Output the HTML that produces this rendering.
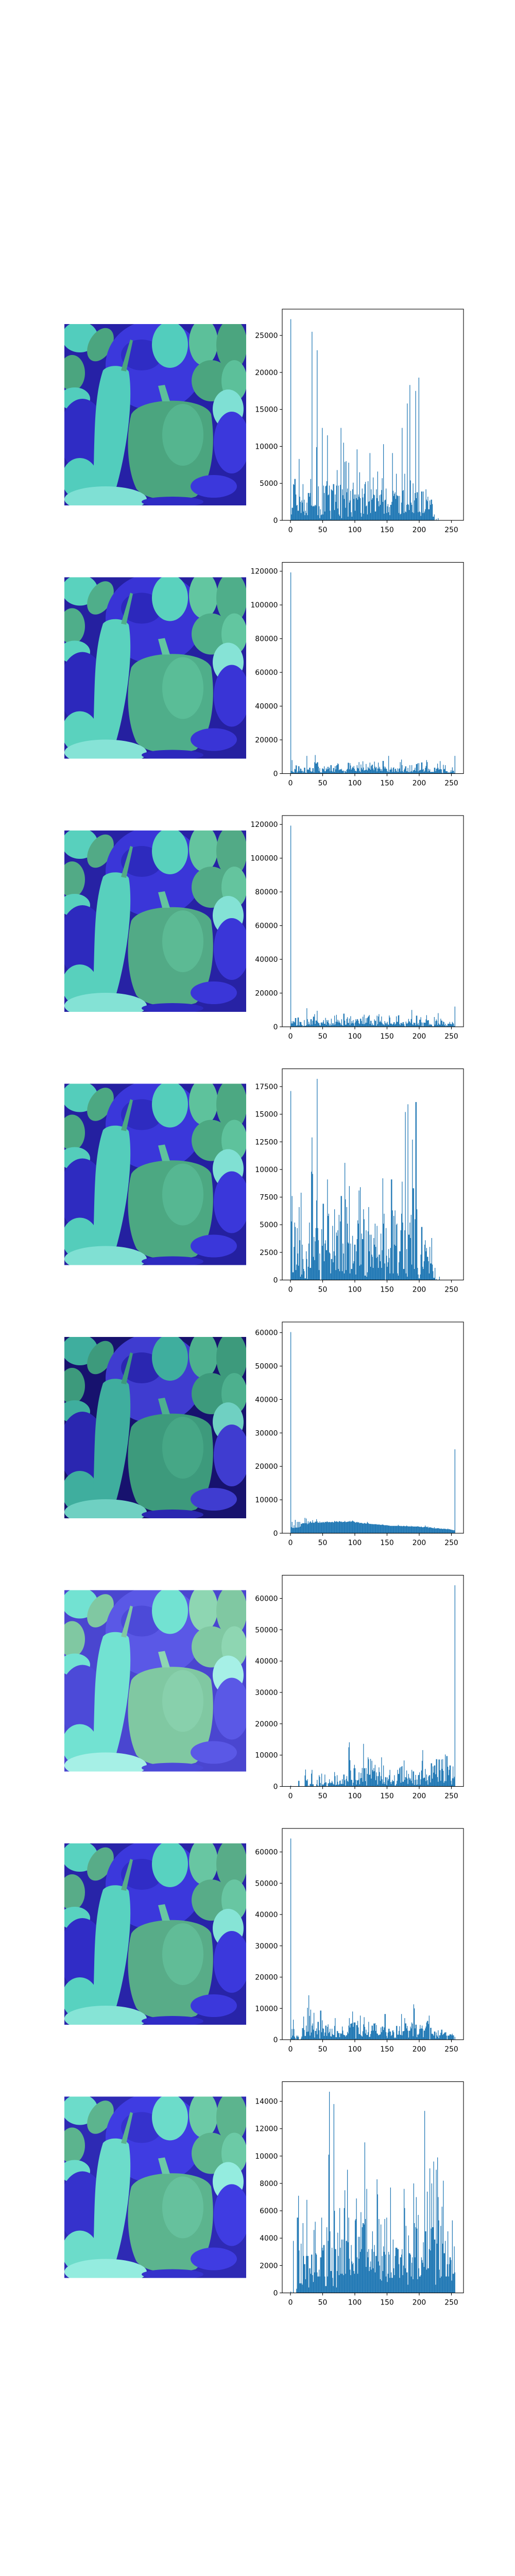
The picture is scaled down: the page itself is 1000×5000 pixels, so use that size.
<!DOCTYPE html>
<html><head><meta charset="utf-8">
<style>
html,body{margin:0;padding:0;background:#fff;width:1000px;height:5000px;overflow:hidden;}
svg{display:block;}
svg text{font-family:"DejaVu Sans","Liberation Sans",sans-serif;font-size:13.9px;fill:#000;}
</style></head>
<body>
<svg id="fig" xmlns="http://www.w3.org/2000/svg" width="1000" height="5000" viewBox="0 0 1000 5000"></svg>
<script>
const xTicks = [0,50,100,150,200,250];
const yTicks1 = [0,5000,10000,15000,20000,25000];
const yTicks2 = [0,20000,40000,60000,80000,100000,120000];
const yTicks4 = [0,2500,5000,7500,10000,12500,15000,17500];
const yTicks5 = [0,10000,20000,30000,40000,50000,60000];
const yTicks8 = [0,2000,4000,6000,8000,10000,12000,14000];

const hist1 = [27200,800,1700,1700,4900,4800,5600,5600,3500,2000,2100,1300,1300,8300,3200,2500,
1000,2700,2400,4900,1200,2800,700,1300,1000,2400,700,3700,3700,3200,3700,5600,
2000,25500,1900,1900,2000,1900,2100,2000,9900,23000,700,4600,1900,300,1500,700,
800,12500,800,4700,3700,1200,4600,4700,5300,11500,3400,3500,4700,1300,200,4200,
4100,4000,4900,4900,1400,3500,2500,4700,6800,1600,4700,800,600,4800,12500,300,
4200,3400,10500,2900,7900,1700,8000,3800,4300,500,7800,2400,2700,4000,1100,500,
4200,5100,2900,3500,1300,3500,3000,9600,2800,3500,3200,6500,3000,1000,500,4300,
3100,900,3600,4900,5200,1900,2000,800,5300,2500,2600,9100,1000,4200,2800,3000,
5800,3500,3400,1200,1200,4200,3000,6600,2600,1900,3400,2100,3500,4100,5700,2500,
10300,900,2700,2800,4300,1000,1900,2200,1100,1800,700,2100,2100,2500,9100,4000,
3300,3600,3800,2900,6300,3400,3300,3300,1000,3300,800,900,2400,12500,4000,4100,
1000,6300,1200,1100,2100,15800,2200,2100,1400,18300,5400,2400,2100,1100,5000,1000,
2700,3700,17500,3000,3800,3800,1100,19300,1200,1100,600,3900,3900,1000,3900,1000,
1200,1500,4200,2800,2600,3200,1500,1500,2700,2100,2800,2800,2200,500,500,800,
0,0,200,0,0,300,0,0,0,0,0,0,0,0,0,0,
0,0,0,0,0,0,0,0,0,0,0,0,0,0,0,0];

const hist2 = [119300,1500,8000,1200,1000,600,2800,2500,4900,4800,600,1300,4400,4300,1500,3000,
2800,1500,1700,600,1300,3500,3500,600,400,10500,2300,2500,2200,3500,3500,1500,
1000,1300,3200,3200,700,6700,11000,6000,6000,6700,6700,4100,1500,3200,800,500,
700,3100,2900,2500,4300,1400,1400,3100,2400,4000,2700,4000,3300,1400,5000,5000,
1600,1000,3300,3300,1000,4400,2500,4800,5100,6100,5600,2000,2400,2600,2300,2800,
1700,1500,1800,300,1500,1500,800,2300,2800,6400,6400,2500,6200,4800,2300,3100,
4000,3400,4500,2800,1700,1600,1300,5000,3400,3000,6800,1600,1000,5400,3400,2400,
7300,3600,1800,2000,2200,5700,2300,1800,4000,3300,2900,6500,2300,4500,5200,5300,
3000,2000,7100,4100,3200,3900,1300,3000,6500,3000,4000,2800,1600,2600,1500,7500,
7500,4200,3000,4000,3000,2700,1500,1000,10500,1000,2300,2400,3600,2500,1000,3400,
3700,1000,2700,2900,1700,1000,3100,1000,2800,3100,6800,1300,8300,5000,1400,800,
2200,3000,4300,4300,1400,1300,3400,1000,900,5000,1000,1400,5000,1000,1800,2000,
2300,3500,1600,5600,5600,6100,1300,6200,1800,2000,2300,6600,6600,2300,2800,1000,
1700,3400,4500,8000,6800,1200,2900,1700,2500,1000,1000,1000,1000,1000,1000,3500,
3500,1400,2800,3000,5900,3400,2400,2500,7400,2600,2500,600,300,5200,2500,2800,
5000,1400,1400,1400,600,600,900,400,1000,2000,1000,3700,1700,1700,500,10500];

const hist3 = [119300,2000,3300,2000,3300,3100,2600,5200,5200,700,1000,5500,5500,900,3000,2800,
2800,1300,900,200,600,4000,500,600,900,11000,4500,1400,3000,1800,1000,4500,
4500,1300,3600,6000,6000,7500,1700,3700,3700,9500,3000,2200,2200,1000,700,2500,
2600,2000,2900,4000,1800,1800,5300,1200,4000,3000,4000,2200,800,1800,800,4800,
1000,2100,2100,1100,6600,1400,3000,7100,3000,4200,2600,3700,2600,2200,1300,4500,
1000,600,7800,7800,3700,1200,1300,4700,5700,2300,2300,4900,1000,6300,2000,3300,
2200,4000,2000,700,2600,4500,3500,4500,4500,3600,2100,1600,4800,4800,3500,1700,
6000,1600,7200,1600,2400,5100,2400,5200,5900,6300,7000,1700,3600,3500,1000,2000,
1000,1000,4400,3600,3500,700,6600,1500,6100,7500,2800,3600,2800,6100,2300,1500,
1500,1000,3400,2400,1500,2300,3000,1400,1200,6700,5500,1900,2000,1700,1200,1800,
2700,2700,1300,1900,6200,3000,2900,6700,6900,1700,1000,2300,2300,1700,2700,2800,
1500,500,200,3100,2000,1800,2500,4700,3300,3000,2200,4600,10000,1500,1100,2500,
2300,2300,1000,6600,6600,1400,2300,1000,4200,4200,5700,2600,400,2500,400,2500,
2400,2400,4400,6900,3700,3900,3900,1000,1800,1300,1300,1300,400,300,300,5800,
1300,3400,4400,3600,1100,8100,2000,1300,1300,4800,3700,3600,1400,3100,2800,900,
1800,400,1000,600,1800,1800,1800,2900,1700,1700,1400,2900,2300,1800,500,12000];

const hist4 = [17100,5300,7600,700,700,3000,5200,4800,900,1400,4700,2400,1300,6600,3600,300,
7900,500,3200,1900,1000,800,150,150,2600,1900,100,1200,3300,5200,1100,1100,
9800,12900,9600,2100,3900,1800,3500,4700,7200,18200,4700,3600,900,2400,0,0,
4600,3100,6900,6900,1700,3300,3600,2700,2700,9100,5800,6000,2500,2400,600,1900,
1900,4900,1600,2600,6400,2200,900,4300,4000,4500,1000,5900,800,5300,7600,7600,
800,3300,2400,600,10600,7300,900,6600,5100,3400,3300,8500,600,3300,1000,1000,
4000,1500,1700,3200,3200,500,2600,3700,5400,5100,8100,1300,8400,1400,4200,3700,
3700,6400,5500,400,400,4500,300,700,4400,6600,2600,4100,1200,4100,2300,2100,
1100,3800,3200,5100,3000,2000,4900,2100,1100,2300,2300,1700,4200,1100,2700,9200,
5100,6000,1500,0,4700,2200,1200,1600,2800,2000,600,2900,9100,9100,6300,600,
5800,3200,6300,3100,5000,5100,600,400,1600,2600,2600,4500,6000,8900,5200,1000,
1000,4500,15200,600,2800,300,15900,4100,4100,5200,3800,5900,1400,12700,8300,8300,
1000,5500,16100,16100,6400,1100,500,150,150,500,2300,4800,4800,1200,1000,1700,
3200,3600,2600,2900,2100,2100,1700,600,3000,1500,1500,3800,1400,800,200,200,
1100,0,100,0,0,0,0,300,0,0,0,0,0,0,0,0,
0,0,0,0,0,0,0,0,0,0,0,0,0,0,0,0];

const hist5 = [60170,1800,3400,1600,1600,2400,1600,4000,1700,1700,3400,1700,3400,1800,3400,2000,
2800,2800,3000,3000,3000,3000,4600,3000,4400,3000,2700,3600,2900,3200,3500,3500,
3100,3200,3900,3200,3100,3200,3500,3400,4200,3600,3200,3200,3100,3500,3100,3300,
3200,3200,3400,3300,3100,3400,3400,3300,3500,3500,3300,3300,3400,3300,3300,3300,
3400,3400,3200,3300,3700,3500,3400,3600,3500,3400,3300,3600,3600,3500,3400,3500,
3300,3400,3400,3400,3700,3400,3300,3400,3400,3500,3500,3500,3700,3400,3500,3600,
3800,3600,3500,3400,3200,3200,3300,3400,3200,3300,3200,3000,3100,3100,3100,3000,
2900,2900,3000,3100,2900,2900,2900,3400,3100,2900,2800,2800,2800,2700,2800,2700,
2700,2700,2700,2700,2700,2700,2600,2600,2600,2600,2600,2500,2500,2500,2600,2600,
2500,2400,2400,2400,2400,2400,2400,2300,2300,2300,2200,2200,2200,2200,2200,2200,
2200,2200,2200,2200,2200,2200,2200,2500,2200,2200,2200,2100,2200,2100,2100,2200,
2200,2100,2100,2100,2300,2100,2100,2000,2100,2000,2000,2200,2000,2100,2000,2000,
2000,2000,2000,2000,2000,2100,2000,2000,1900,1900,1900,2000,1800,1800,1800,1900,
1900,2300,1900,1900,1800,2000,1600,1800,1700,1800,1700,1600,1600,1500,1500,1800,
1400,1500,1400,1500,1500,1500,1500,1400,1300,1400,1400,1300,1300,1300,1400,1300,
1300,1300,1200,1200,1400,1200,1200,1200,1100,1100,1000,1000,900,900,900,25100];

const hist6 = [300,0,0,0,0,0,0,0,0,0,0,0,1800,1800,0,0,
0,0,0,0,0,0,3500,5400,2000,1800,2300,0,300,0,800,800,
4100,5300,700,700,0,0,0,0,700,2100,300,0,3600,3100,1100,0,
4100,700,400,700,1100,3800,1300,1300,0,0,1000,1000,2300,1300,1000,1200,
1800,1300,800,600,4600,3300,400,600,3600,1500,500,700,1800,1900,800,800,
2300,800,3800,3800,2000,300,2400,3300,1800,1500,12500,14100,8400,5100,2100,2100,
300,1200,5800,6900,5800,2100,600,2000,1900,2100,4500,700,2600,4300,2700,5900,
1500,13600,5800,5800,1700,5900,300,4000,9300,8700,3700,3800,8800,2500,8200,5300,
4800,5900,4900,6900,2000,4500,3300,600,3300,6100,4600,1800,3300,9300,2300,900,
6700,1400,800,3000,2900,500,2900,1900,2400,3600,5300,1400,800,1500,2100,1700,
1700,3600,300,300,800,1800,5300,4000,4000,5800,6200,1200,6300,6500,1500,1500,
8300,2100,3000,2900,5100,2500,800,4000,2800,2200,2600,1800,5300,1000,4800,4800,
500,2100,3700,500,2200,600,3600,3700,4500,600,2300,5100,8200,11600,2600,2800,
2800,5600,1700,3800,2000,600,3200,3600,3600,1300,7400,7400,2500,6400,4400,6700,
6700,3900,8700,8700,3000,1500,8600,8600,5200,1800,8600,5600,8700,5000,1200,1700,
10200,1700,9700,9700,6300,3600,5300,6700,6700,1800,600,2600,6400,2600,3100,64190];

const hist7 = [64300,700,3400,1300,6400,3400,1000,500,0,1300,900,1300,900,0,0,0,
400,1000,3700,3700,7400,3100,1200,1200,4500,2500,10200,2600,14200,7600,1300,9600,
2300,4500,5200,3200,8600,700,2800,2800,3600,1700,5700,5700,3000,400,9300,9300,
2400,6200,3600,3500,1200,2300,4500,4500,1200,4100,4900,2100,2500,3500,1100,1000,
3500,1800,1500,1500,4400,6900,800,800,2800,2700,2100,2100,800,2100,1800,2000,
4200,2900,1600,1500,1400,1000,1400,1400,2500,2000,4500,6900,3900,5100,5100,5300,
9000,4100,5500,5500,5500,400,4700,4600,6000,3900,1800,1800,7700,1500,1200,1000,
2700,4900,7200,4100,2000,3200,1500,1500,2400,5700,900,900,1800,2800,4500,4500,
2900,5200,5100,5300,2800,4700,2000,1900,1400,1500,1600,1700,3900,2400,4200,4200,
3100,3900,8200,8200,2400,1200,600,2300,3500,3500,2600,2600,1200,1500,2900,3000,
2400,500,800,500,4400,4400,1600,1600,2800,4300,1600,1500,8200,1400,2700,2700,
2800,6900,5200,5200,3600,4400,2900,700,2800,2900,4200,3600,5500,5100,1100,11300,
10000,3600,4800,4800,800,1700,1500,1900,3400,4700,3500,3600,4500,3500,800,2900,
2900,3600,4200,5500,6000,6000,5000,7700,100,3800,3800,1900,1900,1700,1300,2600,
2600,400,2300,1400,1000,3000,500,1400,1400,2200,3200,3200,1500,1800,2000,2300,
2300,2400,1300,0,1300,1300,1300,1700,1700,1700,1400,1900,1400,1400,0,900];

const hist8 = [100,0,0,0,3800,0,0,0,0,300,5500,5500,7100,3100,700,700,
3600,700,600,5100,2700,2100,2100,1000,2700,6800,2700,2700,400,1800,1800,1400,
2800,2800,1300,800,4600,1500,5200,2900,2800,1500,1200,1200,1700,1200,2600,2600,
5500,3300,3100,3500,3500,1200,500,500,4800,1200,3800,10100,14700,4500,1600,1600,
3300,1100,500,13800,6000,3200,3200,400,1600,4400,2700,1300,6200,3300,1400,3900,
1400,3900,1300,6200,7500,1400,3800,3800,9000,3700,5500,2500,1700,1300,3500,2300,
2100,2200,1600,1400,5300,5400,6900,2600,1400,4100,2500,4100,3000,5900,3200,4800,
5100,5100,5000,11000,5400,1900,7600,3000,2600,3200,1600,1900,2300,1700,3200,4500,
1800,3000,3500,1500,2700,2700,8300,7200,2300,5400,2000,1000,5000,900,2700,1600,
3400,3000,5400,2800,1200,5500,800,1400,3000,2800,1100,7700,1500,1100,1100,3900,
1800,1300,2700,3300,3300,3300,3200,3200,2100,1100,2600,2600,2800,3200,1300,2000,
7600,6200,1800,4900,1500,1500,600,4200,2900,2900,2800,1200,2200,2600,1000,8000,
5100,2600,4800,7000,4700,1000,5700,1800,1200,1200,1300,2600,2400,2200,3700,1900,
13300,4500,4500,1700,7400,1800,1800,3200,9100,3100,4700,8000,4800,4800,9600,3900,
3900,600,9000,3600,9900,7000,5300,1700,1100,4900,1200,6300,3600,8200,2900,2900,
3800,1200,1200,2100,4500,1200,2100,2600,2600,2400,900,5300,1400,1400,3400,1500];

const panelHists = [hist1,hist2,hist3,hist4,hist5,hist6,hist7,hist8];
const panelYTicks = [yTicks1,yTicks2,yTicks2,yTicks4,yTicks5,yTicks5,yTicks5,yTicks8];

const palettes = [
 {bg:'#2621a6',blue:'#3b38dc',blue2:'#2f2cc4',cyan:'#52cdbd',green:'#4ba57f',lg:'#5cc09a',light:'#7fe0d4'},
 {bg:'#2520a0',blue:'#3934d6',blue2:'#2c28bc',cyan:'#5ad2be',green:'#4fae8a',lg:'#62c6a0',light:'#86e3d6'},
 {bg:'#2722a4',blue:'#3a36d8',blue2:'#2d2abe',cyan:'#58d0bd',green:'#52aa86',lg:'#64c49e',light:'#84e2d5'},
 {bg:'#2420a0',blue:'#3a37da',blue2:'#2e2bc0',cyan:'#54cdbb',green:'#4ca882',lg:'#5ec29c',light:'#80e0d3'},
 {bg:'#17126e',blue:'#3f3cd0',blue2:'#2a26b0',cyan:'#3fae9e',green:'#3d9a7c',lg:'#4db08e',light:'#6fd0c2'},
 {bg:'#4a46d0',blue:'#5a58e6',blue2:'#4c4ad8',cyan:'#72e2d2',green:'#80c8a2',lg:'#8ed6b2',light:'#a6f0e6'},
 {bg:'#2824a8',blue:'#3b38dc',blue2:'#302cc6',cyan:'#58d2c0',green:'#58ac88',lg:'#68c6a2',light:'#86e4d6'},
 {bg:'#2e2ab4',blue:'#3f3ce2',blue2:'#3532cc',cyan:'#6cdcca',green:'#5cb48e',lg:'#6ccaa6',light:'#94ecdf'}
];

const NS = 'http://www.w3.org/2000/svg';
const fig = document.getElementById('fig');
function mk(tag, attrs, parent){
  const e = document.createElementNS(NS, tag);
  for (const k in attrs) e.setAttribute(k, attrs[k]);
  parent.appendChild(e);
  return e;
}

const AX_L = 548, AX_R = 900, AX_H = 410, XMIN = -12.8, XMAX = 268.8;

panelHists.forEach((hist, p) => {
  const top = 600 + p * 491.5;
  const bottom = top + AX_H;
  const g = mk('g', {}, fig);
  
  

  const pal = palettes[p];
  const img = mk('svg', {x:125, y:top+29, width:353, height:352, viewBox:'0 0 353 352'}, g);
  
  
  img.innerHTML =
   `<rect width="353" height="352" fill="${pal.bg}"/>
    <ellipse cx="30" cy="25" rx="35" ry="30" fill="${pal.cyan}"/>
    <ellipse cx="70" cy="40" rx="22" ry="35" fill="${pal.green}" transform="rotate(30 70 40)"/>
    <ellipse cx="15" cy="95" rx="25" ry="35" fill="${pal.green}"/>
    <ellipse cx="20" cy="145" rx="30" ry="22" fill="${pal.cyan}"/>
    <ellipse cx="175" cy="80" rx="95" ry="88" fill="${pal.blue}"/>
    <ellipse cx="150" cy="60" rx="40" ry="30" fill="${pal.blue2}"/>
    <ellipse cx="205" cy="40" rx="35" ry="45" fill="${pal.cyan}"/>
    <ellipse cx="270" cy="35" rx="28" ry="45" fill="${pal.lg}"/>
    <ellipse cx="325" cy="40" rx="30" ry="50" fill="${pal.green}"/>
    <ellipse cx="285" cy="110" rx="38" ry="40" fill="${pal.green}"/>
    <ellipse cx="330" cy="110" rx="25" ry="40" fill="${pal.lg}"/>
    <ellipse cx="318" cy="165" rx="30" ry="38" fill="${pal.light}"/>
    <ellipse cx="35" cy="215" rx="45" ry="70" fill="${pal.blue2}"/>
    <ellipse cx="325" cy="230" rx="35" ry="60" fill="${pal.blue}"/>
    <ellipse cx="30" cy="300" rx="35" ry="40" fill="${pal.cyan}"/>
    <path d="M55 330 C60 230 55 150 75 90 C85 78 115 78 125 92 C135 150 120 250 100 320 C90 335 60 340 55 330 Z" fill="${pal.cyan}"/>
    <path d="M110 90 L128 30 L133 32 L120 92 Z" fill="${pal.green}"/>
    <path d="M130 175 C150 140 270 140 285 175 C295 240 285 310 255 335 C220 345 160 345 140 320 C120 280 120 210 130 175 Z" fill="${pal.green}"/>
    <path d="M190 150 L182 120 L195 118 L205 150 Z" fill="${pal.lg}"/>
    <ellipse cx="230" cy="215" rx="40" ry="60" fill="${pal.lg}" opacity="0.6"/>
    <ellipse cx="290" cy="315" rx="45" ry="22" fill="${pal.blue}"/>
    <ellipse cx="80" cy="340" rx="80" ry="25" fill="${pal.light}"/>
    <ellipse cx="210" cy="345" rx="60" ry="10" fill="${pal.blue2}"/>`;

  const maxV = Math.max(...hist);
  const YMAX = maxV * 1.05;
  const sx = v => AX_L + (v - XMIN) * (AX_R - AX_L) / (XMAX - XMIN);
  const sy = v => bottom - v * AX_H / YMAX;

  const bars = mk('g', {fill:'#1f77b4'}, g);
  
  
  hist.forEach((v, i) => {
    if (v <= 0) return;
    const r = mk('rect', {x: sx(i), y: sy(v), width: sx(i+1) - sx(i), height: sy(0) - sy(v)}, bars);
    
    
  });

  const fr = mk('rect', {x:AX_L, y:top, width:AX_R-AX_L, height:AX_H, fill:'none', stroke:'#000', 'stroke-width':1.1}, g);
  
  

  xTicks.forEach(t => {
    const x = sx(t);
    const tl = mk('line', {x1:x, x2:x, y1:bottom, y2:bottom+4.9, stroke:'#000', 'stroke-width':1.1}, g);
    
    
    const tx = mk('text', {x:x, y:bottom+23, 'text-anchor':'middle'}, g);
    
    
    tx.textContent = t;
  });
  panelYTicks[p].forEach(t => {
    const y = sy(t);
    const tl = mk('line', {x1:AX_L-4.9, x2:AX_L, y1:y, y2:y, stroke:'#000', 'stroke-width':1.1}, g);
    
    
    const tx = mk('text', {x:AX_L-8.5, y:y+5, 'text-anchor':'end'}, g);
    
    
    tx.textContent = t;
  });
});
</script>
</body></html>
